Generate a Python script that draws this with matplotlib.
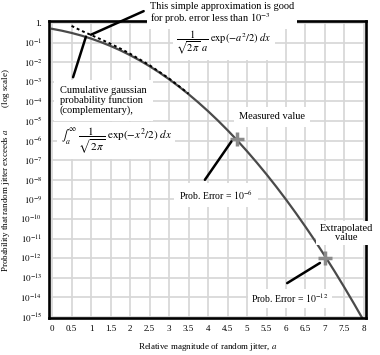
import matplotlib
matplotlib.use("Agg")
import matplotlib.pyplot as plt

plt.rcParams['font.family'] = ['Liberation Serif', 'DejaVu Serif']
plt.rcParams['mathtext.fontset'] = 'stix'

# complementary gaussian probability
a_vals = [0, 0.25, 0.5, 0.75, 1.0, 1.25, 1.5, 1.75, 2.0, 2.25, 2.5, 2.75,
          3.0, 3.25, 3.5, 3.75, 4.0, 4.25, 4.5, 4.75, 5.0, 5.25, 5.5, 5.75,
          6.0, 6.25, 6.5, 6.75, 7.0, 7.25, 7.5, 7.75, 8.0]
q_vals = [0.5, 0.4013, 0.3085, 0.2266, 0.1587, 0.1056, 0.0668, 0.0401,
          0.02275, 0.01222, 0.00621, 0.00298, 1.35e-3, 5.77e-4, 2.33e-4,
          8.84e-5, 3.17e-5, 1.07e-5, 3.40e-6, 1.02e-6, 2.87e-7, 7.60e-8,
          1.90e-8, 4.46e-9, 9.87e-10, 2.05e-10, 4.02e-11, 7.43e-12,
          1.28e-12, 2.09e-13, 3.19e-14, 4.59e-15, 6.22e-16]

# simple approximation (dashed)
approx_a = [0.5, 0.75, 1.0, 1.25, 1.5, 1.75, 2.0, 2.5, 3.0, 3.5]
approx_vals = [0.704, 0.4015, 0.242, 0.1461, 0.0864, 0.0493, 0.0270,
               0.00701, 1.48e-3, 2.49e-4]

measured = (4.75, 1.2e-6)
extrapolated = (7.0, 1.0e-12)

x_ticks = [0, 0.5, 1, 1.5, 2, 2.5, 3, 3.5, 4, 4.5, 5, 5.5, 6, 6.5, 7, 7.5, 8]
x_labels = ['0', '0.5', '1', '1.5', '2', '2.5', '3', '3.5', '4', '4.5',
            '5', '5.5', '6', '6.5', '7', '7.5', '8']
y_exps = list(range(0, -16, -1))
y_labels = ['1.'] + [r'$10^{%d}$' % e for e in y_exps[1:]]

fig = plt.figure(figsize=(3.8, 3.55), dpi=100)
ax = fig.add_axes([0.129, 0.104, 0.834, 0.837])

ax.set_yscale('log')
ax.set_xlim(-0.077, 8.05)
ax.set_ylim(10 ** -15.05, 10 ** 0.1)

ax.plot(a_vals, q_vals, color='#4a4a4a', lw=1.6, zorder=2)
ax.plot(approx_a, approx_vals, color='black', lw=1.4, ls=(0, (1.5, 1.5)), zorder=2)

for pt in (measured, extrapolated):
    ax.plot(*pt, marker='+', color='#8a8a8a', ms=10, mew=2.5, zorder=4)

ax.set_xticks(x_ticks)
ax.set_xticklabels(x_labels)
ax.set_yticks([10.0 ** e for e in y_exps])
ax.set_yticklabels(y_labels)
ax.minorticks_off()
ax.tick_params(length=0, labelsize=6.5)
ax.tick_params(axis='x', pad=5)
ax.tick_params(axis='y', pad=5)

ax.grid(True, color='#d6d6d6', lw=1.2)
ax.set_axisbelow(True)
for s in ax.spines.values():
    s.set_linewidth(1.9)
    s.set_zorder(2.6)

ax.set_xlabel(r'Relative magnitude of random jitter, $a$', fontsize=6.5, labelpad=6)
ax.set_ylabel(r'Probability that random jitter exceeds $a$          (log scale)',
              fontsize=6.5, labelpad=6)

white = dict(boxstyle='square,pad=0.3', fc='white', ec='none')

# top approximation note
fig.text(150 / 380, 1 - 2 / 355,
         'This simple approximation is good\nfor prob. error less than $10^{-3}$',
         ha='left', va='top', fontsize=7.5, linespacing=1.0, bbox=white, zorder=5)
ax.text(4.4, 0.1, r'$\dfrac{1}{\sqrt{2\pi}\ a}\ \exp(-a^2/2)\ dx$',
        ha='center', va='center', fontsize=7.5, bbox=white, zorder=5)
ax.annotate('', xy=(1.0, 0.25), xytext=(2.35, 10 ** 0.6), annotation_clip=False,
            arrowprops=dict(arrowstyle='-', lw=1.8, color='black',
                            shrinkA=0, shrinkB=0), zorder=6)

# cumulative gaussian note
ax.text(0.2, 6e-4, 'Cumulative gaussian\nprobability function\n(complementary),',
        ha='left', va='top', fontsize=7.5, linespacing=1.05,
        bbox=dict(boxstyle='square,pad=0.6', fc='white', ec='none'), zorder=5)
ax.text(0.22, 1e-6, r'$\int_a^{\infty}\ \dfrac{1}{\sqrt{2\pi}}\ \exp(-x^2/2)\ dx$',
        ha='left', va='center', fontsize=8, bbox=white, zorder=5)
ax.annotate('', xy=(0.87, 0.2), xytext=(0.54, 1.7e-3),
            arrowprops=dict(arrowstyle='-', lw=1.8, color='black',
                            shrinkA=0, shrinkB=0), zorder=6)

# measured value
ax.text(5.64, 1.6e-5, 'Measured value', ha='center', va='center',
        fontsize=7.5, bbox=dict(boxstyle='square,pad=0.5', fc='white', ec='none'), zorder=5)
ax.text(4.2, 1.7e-9, 'Prob. Error = $10^{-6}$', ha='center', va='center',
        fontsize=7, bbox=dict(boxstyle='square,pad=0.5', fc='white', ec='none'), zorder=5)
ax.annotate('', xy=(4.6, 9e-7), xytext=(3.92, 1e-8),
            arrowprops=dict(arrowstyle='-', lw=1.8, color='black',
                            shrinkA=0, shrinkB=0), zorder=6)

# extrapolated value
ax.text(7.54, 2e-11, 'Extrapolated\nvalue', ha='center', va='center',
        fontsize=7.5, linespacing=1.0, clip_on=False,
        bbox=dict(boxstyle='square,pad=0.3', fc='white', ec='none'), zorder=5)
ax.text(6.1, 9e-15, 'Prob. Error = $10^{-12}$', ha='center', va='center',
        fontsize=7, bbox=white, zorder=5)
ax.annotate('', xy=(6.87, 10 ** -12.24), xytext=(6.03, 5.4e-14),
            arrowprops=dict(arrowstyle='-', lw=1.8, color='black',
                            shrinkA=0, shrinkB=0), zorder=6)

fig.savefig('out.png', dpi=100)
